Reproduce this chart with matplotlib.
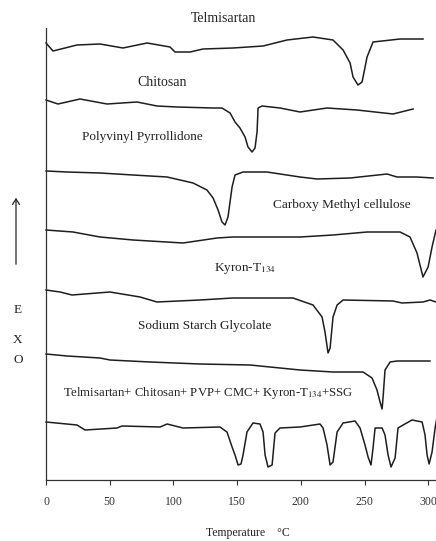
import matplotlib
matplotlib.use("Agg")
import matplotlib.pyplot as plt

plt.rcParams['font.family'] = ['Liberation Serif', 'DejaVu Serif']
plt.rcParams['mathtext.fontset'] = 'stix'

# ---- data (temperature in deg C, signal in arbitrary offset units) ----
telmi_T = [0, 5.5, 24.3, 42.4, 60.4, 79.3, 97.3, 101.2, 113.0, 123.2, 146.7, 170.3, 189.1,
           209.5, 225.2, 233.1, 238.6, 240.9, 244.8, 248.0, 251.9, 256.6, 277.8, 295.8]
telmi_s = [437, 429, 435, 436, 432, 437, 433, 428, 428, 431, 432, 434, 440,
           443, 440, 430, 417, 403, 395, 398, 423, 438, 441, 441]

chito_T = [0, 9.4, 26.7, 47.9, 71.4, 87.1, 102.8, 131.1, 138.1, 144.4, 148.3, 152.2, 156.2,
           158.5, 161.7, 164.0, 165.6, 166.4, 169.5, 183.6, 199.3, 220.5, 244.0, 272.3, 288.0]
chito_s = [380, 376, 381, 376, 378, 374, 373, 372, 372, 367, 358, 352, 343,
           333, 328, 332, 348, 372, 374, 372, 368, 372, 370, 366, 371]

pvp_T = [0, 16.5, 42.4, 68.3, 95.0, 115.4, 126.3, 131.1, 135.0, 138.1, 140.5, 142.8, 146.0,
         148.3, 154.6, 173.4, 199.3, 212.7, 238.6, 267.6, 275.4, 291.1, 303.7]
pvp_s = [309, 308, 307, 305, 303, 297, 290, 282, 270, 258, 255, 263, 293,
         305, 308, 308, 303, 301, 302, 306, 303, 303, 302]

cmc_T = [0, 21.2, 42.4, 68.3, 107.5, 134.2, 146.7, 173.4, 199.3, 225.2, 251.9, 277.8,
         285.6, 291.1, 295.8, 299.8, 302.9, 306.0]
cmc_s = [250, 248, 243, 240, 237, 242, 243, 243, 243, 245, 248, 248,
         243, 227, 203, 213, 233, 250]

kyron_T = [0, 11.0, 20.4, 50.2, 73.8, 87.1, 120.8, 146.7, 193.8, 209.5, 216.6, 218.9,
           221.3, 222.9, 225.2, 228.4, 233.1, 272.3, 279.4, 295.8, 301.3, 306.0]
kyron_s = [190, 188, 185, 188, 183, 178, 180, 182, 182, 175, 163, 148,
           127, 132, 163, 175, 180, 179, 177, 178, 180, 178]

ssg_T = [0, 16.5, 42.4, 50.2, 81.6, 120.8, 160.1, 199.3, 225.2, 248.8, 255.8, 259.7,
         262.1, 263.7, 264.5, 266.0, 270.0, 275.4, 301.3]
ssg_s = [126, 124, 122, 120, 118, 116, 115, 110, 108, 108, 102, 90,
         78, 71, 83, 110, 118, 119, 119]

mix_T = [0, 24.3, 30.6, 55.7, 59.6, 89.5, 95.0, 107.5, 136.5, 142.0, 146.0, 148.3, 150.7,
         153.0, 154.6, 157.7, 162.4, 167.9, 170.3, 171.9, 174.2, 177.4, 179.7, 183.6, 199.3,
         215.0, 217.4, 220.5, 222.9, 225.2, 228.4, 233.1, 242.5, 246.4, 250.3, 252.7, 255.0,
         256.6, 258.2, 263.7, 266.0, 268.4, 270.7, 273.9, 276.2, 280.2, 287.2, 295.1, 297.4,
         299.0, 300.6, 302.9, 305.3, 306.8]
mix_s = [58, 55, 50, 52, 54, 53, 56, 52, 53, 48, 33, 25, 15,
         16, 25, 48, 57, 56, 48, 25, 13, 15, 47, 52, 53,
         56, 52, 35, 15, 18, 48, 57, 59, 52, 35, 23, 15,
         32, 52, 52, 45, 25, 13, 22, 52, 55, 60, 58, 45,
         25, 16, 28, 52, 63]

curve_labels = ['Telmisartan', 'Chitosan', 'Polyvinyl Pyrrollidone', 'Carboxy Methyl cellulose',
                'Kyron-T$_{134}$', 'Sodium Starch Glycolate',
                'Telmisartan+ Chitosan+ PVP+ CMC+ Kyron-T$_{134}$+SSG']
xticks = [0, 50, 100, 150, 200, 250, 300]
xlabel = 'Temperature    \u00b0C'

# ---- figure ----
W, H = 436, 541
fig = plt.figure(figsize=(W / 100, H / 100), dpi=100)
ax = fig.add_axes([46 / W, 61 / H, 390 / W, 452 / H])

line_kw = dict(color='#1e1e1e', lw=1.1, solid_joinstyle='round')
for T, s in [(telmi_T, telmi_s), (chito_T, chito_s), (pvp_T, pvp_s), (cmc_T, cmc_s),
             (kyron_T, kyron_s), (ssg_T, ssg_s), (mix_T, mix_s)]:
    ax.plot(T, s, clip_on=False, **line_kw)

label_pos = [(138.9, 461), (91.0, 397), (75.3, 343), (232.3, 275), (156.2, 212),
             (124.8, 154), (127.1, 87)]
label_size = [10, 10, 9.5, 9.5, 9.5, 9.5, 9.2]
for lab, (x, y), fs in zip(curve_labels, label_pos, label_size):
    ax.text(x, y, lab, ha='center', va='center', fontsize=fs, color='#222222', clip_on=False)

ax.set_xlim(0, 306)
ax.set_ylim(0, 452)
ax.set_xticks(xticks)
ax.set_xticklabels([str(t) for t in xticks])
ax.set_yticks([])
ax.tick_params(axis='x', direction='out', length=3.6, width=0.8, pad=8, labelsize=8.5,
               colors='#333333')
for sp in ['top', 'right']:
    ax.spines[sp].set_visible(False)
for sp in ['left', 'bottom']:
    ax.spines[sp].set_linewidth(0.9)
    ax.spines[sp].set_color('#333333')

fig.text(248 / W, 1 - 533 / H, xlabel, ha='center', va='center', fontsize=8.5, color='#222222')

# EXO arrow
ax_arrow_x = 16 / W
fig.patches.append(matplotlib.patches.FancyArrowPatch(
    (ax_arrow_x, 1 - 267 / H), (ax_arrow_x, 1 - 195 / H), transform=fig.transFigure,
    arrowstyle='->,head_length=4,head_width=2.5', color='#222222', lw=0.9))
for ch, yp in [('E', 310), ('X', 340), ('O', 360)]:
    fig.text(18 / W, 1 - yp / H, ch, ha='center', va='center', fontsize=9.5, color='#222222')

fig.savefig('out.png', dpi=100, facecolor='white')
